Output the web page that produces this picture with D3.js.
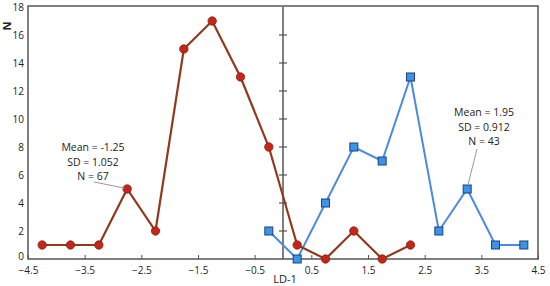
<!DOCTYPE html>
<html>
<head>
<meta charset="utf-8">
<script src="https://cdnjs.cloudflare.com/ajax/libs/d3/7.8.5/d3.min.js"></script>
<style>
  body { margin: 0; background: #fff; }
  text { font-family: "Open Sans", "Liberation Sans", sans-serif; fill: #222; }
</style>
</head>
<body>
<svg id="chart" width="550" height="286"></svg>
<script>
// bin centres and counts
const redX = [-4.25, -3.75, -3.25, -2.75, -2.25, -1.75, -1.25, -0.75, -0.25, 0.25, 0.75, 1.25, 1.75, 2.25];
const redN = [1, 1, 1, 5, 2, 15, 17, 13, 8, 1, 0, 2, 0, 1];
const blueX = [-0.25, 0.25, 0.75, 1.25, 1.75, 2.25, 2.75, 3.25, 3.75, 4.25];
const blueN = [2, 0, 4, 8, 7, 13, 2, 5, 1, 1];
const xTicks = [-4.5, -3.5, -2.5, -1.5, -0.5, 0.5, 1.5, 2.5, 3.5, 4.5];
const yTicks = [0, 2, 4, 6, 8, 10, 12, 14, 16, 18];
const redLabel = ["Mean = -1.25", "SD = 1.052", "N = 67"];
const blueLabel = ["Mean = 1.95", "SD = 0.912", "N = 43"];

const svg = d3.select("#chart");
const pLeft = 28, pRight = 538, pTop = 7, pBottom = 259;

const x = d3.scaleLinear().domain([-4.5, 4.5]).range([pLeft, pRight]);
const y = d3.scaleLinear().domain([0, 18]).range([pBottom, pTop]);

// frame
svg.append("rect")
  .attr("x", pLeft).attr("y", pTop - 1)
  .attr("width", pRight - pLeft).attr("height", pBottom - pTop + 1)
  .attr("fill", "none").attr("stroke", "#555").attr("stroke-width", 1.5);

// x axis, ticks pointing inward
const xAxis = d3.axisBottom(x).tickValues(xTicks).tickSize(-4).tickPadding(8).tickFormat(d3.format(".1f"));
const gx = svg.append("g").attr("transform", `translate(0,${pBottom})`).call(xAxis);
gx.select(".domain").remove();
gx.selectAll("line").attr("stroke", "#555");
gx.selectAll("text").attr("font-size", 10).attr("dy", "0.72em");

// y axis labels on the left
const yAxis = d3.axisLeft(y).tickValues(yTicks).tickSize(0).tickPadding(4);
const gy = svg.append("g").attr("transform", `translate(${pLeft},0)`).call(yAxis);
gy.select(".domain").remove();
gy.selectAll("text").attr("font-size", 10)
  .attr("dy", d => d === 0 ? "0.05em" : "0.32em");

// centre line at zero with crossing ticks
svg.append("line")
  .attr("x1", x(0)).attr("x2", x(0)).attr("y1", pTop).attr("y2", pBottom)
  .attr("stroke", "#555").attr("stroke-width", 1.5);
svg.append("g").selectAll("line").data(yTicks.filter(d => d > 0 && d < 18)).join("line")
  .attr("x1", x(0) - 4).attr("x2", x(0) + 4)
  .attr("y1", d => y(d)).attr("y2", d => y(d))
  .attr("stroke", "#555").attr("stroke-width", 1.2);

// axis titles
svg.append("text").attr("x", x(0) + 2).attr("y", 283)
  .attr("text-anchor", "middle").attr("font-size", 11).text("LD-1");
svg.append("text").attr("transform", "translate(11,26) rotate(-90)")
  .attr("text-anchor", "middle").attr("font-size", 11).attr("font-weight", "bold").text("N");

const line = d3.line().x(d => x(d[0])).y(d => y(d[1]));

// blue series
const blue = blueX.map((v, i) => [v, blueN[i]]);
svg.append("path").datum(blue).attr("d", line)
  .attr("fill", "none").attr("stroke", "#4a8be0").attr("stroke-width", 2);
svg.append("g").selectAll("rect").data(blue).join("rect")
  .attr("x", d => x(d[0]) - 4).attr("y", d => y(d[1]) - 4)
  .attr("width", 8).attr("height", 8)
  .attr("fill", "#3d94e6").attr("stroke", "#1d3f80").attr("stroke-width", 1);

// red series
const red = redX.map((v, i) => [v, redN[i]]);
svg.append("path").datum(red).attr("d", line)
  .attr("fill", "none").attr("stroke", "#8f3a1c").attr("stroke-width", 2.2);
svg.append("g").selectAll("circle").data(red).join("circle")
  .attr("cx", d => x(d[0])).attr("cy", d => y(d[1])).attr("r", 4.2)
  .attr("fill", "#c8241a").attr("stroke", "#7a2a12").attr("stroke-width", 0.8);

// annotations
function note(lines, cx, cy, from, to) {
  svg.append("line")
    .attr("x1", from[0]).attr("y1", from[1]).attr("x2", to[0]).attr("y2", to[1])
    .attr("stroke", "#999").attr("stroke-width", 1);
  svg.append("g").selectAll("text").data(lines).join("text")
    .attr("x", cx).attr("y", (d, i) => cy + i * 14.5)
    .attr("text-anchor", "middle").attr("font-size", 10.5).text(d => d);
}
note(redLabel, 93, 151, [94, 182], [x(-2.75) - 3, y(5) - 1]);
note(blueLabel, 484, 116, [477, 149], [x(3.25) + 1, y(5) - 5]);
</script>
</body>
</html>
